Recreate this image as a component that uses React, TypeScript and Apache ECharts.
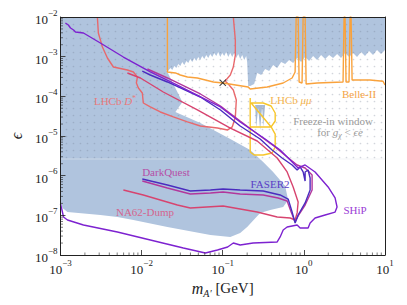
import React, { useEffect, useRef } from 'react';
import * as echarts from 'echarts';

type P = [number, number];

const SERIF = '"Liberation Serif", "DejaVu Serif", serif';

// axis decades
const xDecades = [1e-3, 1e-2, 1e-1, 1, 10];
const yDecades = [1e-8, 1e-7, 1e-6, 1e-5, 1e-4, 1e-3, 1e-2];

// excluded (shaded) region: [m_A' GeV, epsilon]
const excludedRegion: P[] = [
  [1e-3, 1e-2], [10, 1e-2], [10, 1.47e-3],
  [8.93, 1.17e-3], [7.97, 1.47e-3], [7.12, 1.1e-3], [6.36, 1.39e-3], [5.67, 1.04e-3], [5.07, 1.31e-3],
  [4.52, 9.8e-4], [4.04, 1.24e-3], [3.61, 9.8e-4], [3.22, 1.24e-3], [2.87, 9.26e-4], [2.57, 1.17e-3],
  [2.29, 9.26e-4], [2.05, 1.1e-3], [1.83, 8.74e-4], [1.63, 1.1e-3], [1.456, 8.24e-4], [1.3, 1.04e-3],
  [1.16, 7.78e-4], [1.036, 9.8e-4], [0.925, 7.34e-4], [0.826, 9.26e-4], [0.738, 6.92e-4],
  [0.658, 8.24e-4], [0.588, 6.53e-4], [0.525, 7.34e-4], [0.469, 5.18e-4], [0.418, 6.17e-4],
  [0.3735, 4.35e-4], [0.333, 4.89e-4], [0.2978, 3.45e-4], [0.266, 3.88e-4], [0.244, 2.05e-4],
  [0.218, 1.82e-4], [0.206, 1.82e-4], [0.2, 7.34e-4],
  [0.1946, 1.04e-3], [0.1839, 8.24e-4], [0.1738, 1.1e-3], [0.1642, 8.74e-4], [0.1552, 1.17e-3],
  [0.1466, 9.26e-4], [0.1385, 1.24e-3], [0.1309, 9.8e-4], [0.1237, 1.24e-3], [0.1169, 9.8e-4],
  [0.1104, 1.31e-3], [0.1043, 1.04e-3], [0.0986, 1.24e-3], [0.0932, 9.8e-4], [0.088, 1.31e-3],
  [0.0832, 1.04e-3], [0.0786, 1.24e-3], [0.0743, 9.8e-4], [0.0702, 1.17e-3], [0.0663, 9.26e-4],
  [0.0626, 1.1e-3], [0.0592, 8.74e-4], [0.0559, 1.04e-3], [0.0528, 8.24e-4], [0.0499, 9.8e-4],
  [0.0472, 7.78e-4], [0.0446, 9.26e-4], [0.0421, 7.34e-4], [0.0398, 8.74e-4], [0.0376, 6.92e-4],
  [0.0356, 7.78e-4], [0.0336, 6.17e-4], [0.0317, 7.34e-4], [0.03, 5.82e-4], [0.0283, 6.53e-4],
  [0.0268, 5.18e-4], [0.0253, 5.82e-4], [0.0239, 4.61e-4], [0.0226, 5.18e-4], [0.0213, 4.35e-4],
  [0.0202, 4.61e-4],
  [0.0318, 7.2e-5], [0.0261, 4.03e-5], [0.053, 2.13e-5], [0.124, 8.41e-6], [0.218, 4.44e-6],
  [0.315, 2.21e-6], [0.418, 1.24e-6], [0.588, 5.49e-7], [0.64, 2.44e-7], [0.556, 1.62e-7],
  [0.385, 1.36e-7], [0.289, 1.15e-7], [0.2, 5.08e-8], [0.164, 3.59e-8], [0.124, 2.85e-8],
  [0.0705, 3.19e-8], [0.0208, 5.08e-8], [7.92e-3, 7.63e-8], [5.03e-3, 9.08e-8], [3.1e-3, 1.02e-7],
  [1.22e-3, 1.21e-7], [1.06e-3, 1.53e-7], [1e-3, 2.1e-7],
];

const excludedSpikes: P[] = [
  [0.251, 6.05e-5], [0.258, 1.59e-5], [0.2735, 5.08e-5], [0.289, 1.42e-5],
  [0.306, 5.71e-5], [0.315, 1.69e-5], [0.333, 6.05e-5],
];

// freeze-in window (dotted band)
const freezeInBand: P[] = [[1e-3, 2.63e-6], [10, 2.63e-6], [10, 1e-2], [1e-3, 1e-2]];
const freezeInEdge: P[] = [[1e-3, 2.5e-6], [10, 2.5e-6], [10, 2.8e-6], [1e-3, 2.8e-6]];

const lhcbDstar: P[] = [
  [2.85e-3, 1e-2], [2.93e-3, 3.95e-3], [3.29e-3, 1.75e-3], [3.79e-3, 9.26e-4], [4.49e-3, 5.49e-4],
  [6.68e-3, 4.61e-4], [7.92e-3, 4.11e-4], [8.87e-3, 3.07e-4], [8.62e-3, 2.17e-4], [9.13e-3, 1.62e-4],
  [1.02e-2, 1.21e-4], [1.05e-2, 6.79e-5], [1.28e-2, 5.39e-5], [1.7e-2, 4.03e-5], [2.46e-2, 3.02e-5],
  [3.67e-2, 2.26e-5], [5.3e-2, 1.79e-5], [8.61e-2, 1.59e-5], [0.115, 1.42e-5], [0.131, 1.69e-5],
  [0.143, 3.02e-5], [0.147, 8.08e-5], [0.135, 1.445e-4], [0.117, 2.05e-4], [0.107, 2.44e-4],
  [0.124, 3.45e-4], [0.135, 5.49e-4], [0.143, 1.1e-3], [0.143, 2.63e-3], [0.135, 1e-2],
];

const belle2: P[] = [
  [2.08e-2, 1e-2], [2.08e-2, 4.11e-4], [2.61e-2, 3.88e-4], [3.0e-2, 3.45e-4], [3.67e-2, 3.07e-4],
  [4.87e-2, 2.9e-4], [7.67e-2, 2.3e-4], [0.101, 2.17e-4], [0.206, 1.72e-4], [0.218, 1.53e-4],
  [0.353, 1.72e-4], [0.556, 2.17e-4], [0.716, 2.9e-4], [0.78, 4.11e-4], [0.804, 1e-2], [0.85, 1e-2],
  [0.874, 2.3e-4], [0.95, 2.17e-4], [0.979, 1e-2], [1.036, 1e-2], [1.066, 2.05e-4], [1.455, 2.17e-4],
  [3.04, 2.3e-4], [3.13, 1e-2], [3.22, 1e-2], [3.31, 2.3e-4], [3.6, 2.3e-4], [3.71, 1e-2],
  [3.82, 1e-2], [3.93, 2.58e-4], [6.53, 2.58e-4], [9.45, 2.4e-4], [10, 1.93e-4],
];

const lhcbMuMuOuter: P[] = [
  [0.218, 9.08e-5], [0.218, 3.95e-6], [0.244, 3.32e-6], [0.315, 3.32e-6], [0.406, 3.73e-6],
  [0.443, 5.28e-6], [0.443, 1.12e-5], [0.395, 1.69e-5], [0.443, 2.39e-5], [0.443, 3.8e-5],
  [0.395, 5.71e-5], [0.315, 6.79e-5], [0.251, 6.79e-5], [0.224, 6.79e-5], [0.395, 1.69e-5],
  [0.218, 1.69e-5],
];

const ship: P[] = [
  [1.15e-3, 7.06e-3], [1.25e-3, 6.28e-3], [1.33e-3, 5.28e-3], [1.45e-3, 4.7e-3], [1.53e-3, 4.19e-3],
  [1.92e-3, 3.95e-3], [3.1e-3, 2.21e-3], [5.96e-3, 9.8e-4], [1.28e-2, 4.11e-4], [2.76e-2, 1.93e-4],
  [7.05e-2, 7.2e-5], [9.38e-2, 5.39e-5], [0.164, 2.26e-5], [0.333, 8.41e-6], [0.51, 4.44e-6],
  [0.678, 2.48e-6], [0.85, 1.56e-6], [1.036, 1.86e-6], [1.374, 1.24e-6], [1.99, 5.18e-7],
  [2.425, 2.74e-7], [2.565, 1.62e-7], [2.425, 1.21e-7], [1.827, 1.02e-7], [1.374, 8.57e-8],
  [1.194, 6.42e-8], [1.128, 4.8e-8], [0.899, 4.8e-8], [0.826, 5.71e-8], [0.622, 5.08e-8],
  [0.556, 4.27e-8], [0.51, 2.85e-8], [0.469, 2.13e-8], [0.237, 2.01e-8], [0.164, 1.79e-8],
  [0.135, 2.01e-8], [0.115, 1.59e-8], [0.0861, 1.34e-8], [0.061, 1.12e-8], [0.0327, 1.5e-8],
  [1.28e-2, 2.39e-8], [5.03e-3, 3.8e-8], [1.92e-3, 5.71e-8], [1.22e-3, 7.63e-8], [1.09e-3, 9.08e-8],
  [1.03e-3, 1.53e-7], [1e-3, 1.93e-7],
];

const faser2: P[] = [
  [1.02e-2, 4.35e-4], [1.28e-2, 3.45e-4], [2.08e-2, 2.3e-4], [5.3e-2, 9.62e-5], [9.38e-2, 4.53e-5],
  [0.164, 1.79e-5], [0.289, 8.41e-6], [0.406, 4.44e-6], [0.539, 2.79e-6], [0.716, 1.86e-6],
  [0.826, 1.39e-6], [0.899, 1.66e-6], [0.979, 1.24e-6], [1.036, 7.34e-7], [1.036, 1.24e-6],
  [1.128, 1.39e-6], [1.194, 8.74e-7], [1.194, 4.36e-7], [1.036, 2.05e-7], [0.85, 1.02e-7],
  [0.78, 6.42e-8], [0.716, 1.21e-7], [0.64, 2.58e-7], [0.51, 3.26e-7], [0.315, 4.11e-7],
  [0.164, 4.36e-7], [0.101, 4.62e-7], [0.0705, 4.36e-7], [0.0398, 4.11e-7], [0.0208, 5.82e-7],
  [1.02e-2, 8.24e-7],
];

const darkQuest: P[] = [
  [1.18e-2, 4.89e-4], [2.08e-2, 2.9e-4], [5.3e-2, 1.146e-4], [9.38e-2, 5.71e-5], [0.164, 2.39e-5],
  [0.289, 1.0e-5], [0.443, 5.28e-6], [0.622, 2.96e-6], [0.826, 1.86e-6], [1.036, 1.56e-6],
  [1.263, 1.04e-6], [1.263, 4.36e-7], [1.036, 1.82e-7], [0.85, 9.63e-8], [0.78, 6.8e-8],
  [0.697, 1.21e-7], [0.622, 2.3e-7], [0.482, 2.74e-7], [0.315, 3.26e-7], [0.164, 3.45e-7],
  [0.101, 3.88e-7], [0.0705, 3.66e-7], [0.0398, 3.45e-7], [0.0208, 4.89e-7], [1.02e-2, 7.34e-7],
];

const na62: P[] = [
  [6.68e-3, 3.88e-4], [9.67e-3, 2.9e-4], [1.85e-2, 1.286e-4], [4.87e-2, 4.53e-5], [0.124, 1.59e-5],
  [0.266, 7.48e-6], [0.469, 2.79e-6], [0.622, 1.24e-6], [0.738, 5.18e-7], [0.85, 2.17e-7],
  [0.826, 1.15e-7], [0.78, 7.63e-8], [0.678, 8.57e-8], [0.469, 9.08e-8], [0.266, 1.21e-7],
  [0.101, 1.72e-7], [0.0398, 1.53e-7], [0.0276, 1.82e-7], [0.017, 2.44e-7], [1.05e-2, 3.26e-7],
  [5.96e-3, 4.36e-7],
];

const benchmark: P[] = [[0.1, 2.2e-4]];

const COLORS = {
  region: '#b0c4de',
  spikes: '#a7bad4',
  dstar: '#e8686c',
  belle: '#f9a23c',
  mumu: '#f7c62a',
  ship: '#7d22d0',
  faser: '#4a2cbf',
  dq: '#b2379c',
  na62: '#d7446f',
};

function polySeries(points: P[], fill: any, z: number) {
  return {
    type: 'custom',
    coordinateSystem: 'cartesian2d',
    z,
    silent: true,
    data: points,
    renderItem: (params: any, api: any) => {
      if (params.dataIndex !== 0) return null;
      return {
        type: 'polygon',
        shape: { points: points.map((p) => api.coord(p)) },
        style: { fill },
      };
    },
  };
}

function lineSeries(name: string, data: P[], color: string, width = 1.4, z = 4) {
  return {
    name,
    type: 'line',
    data,
    z,
    silent: true,
    showSymbol: false,
    symbol: 'none',
    lineStyle: { color, width },
  };
}

function expLabel(v: number) {
  const e = Math.round(Math.log10(v));
  return `{b|10}{e|${e < 0 ? '\u2212' + -e : e}}`;
}

const labelRich = {
  b: { fontSize: 13, lineHeight: 18, verticalAlign: 'bottom', fontFamily: SERIF, color: '#222' },
  e: { fontSize: 9, lineHeight: 9, verticalAlign: 'top', fontFamily: SERIF, color: '#222' },
};

function textEl(x: number, y: number, text: string, fill: string, size = 11) {
  return {
    type: 'text',
    x,
    y,
    z: 100,
    silent: true,
    style: {
      text,
      fill,
      fontSize: size,
      fontFamily: SERIF,
      align: 'center',
      verticalAlign: 'middle',
      lineHeight: 14,
      rich: {
        i: { fontStyle: 'italic', fontSize: size, fontFamily: SERIF, fill, lineHeight: 14 },
        s: { fontSize: size - 3, fontFamily: SERIF, fill, verticalAlign: 'top', lineHeight: 8 },
        sub: { fontSize: size - 3, fontFamily: SERIF, fill, fontStyle: 'italic', verticalAlign: 'bottom', lineHeight: 8 },
      },
    },
  };
}

export default function App() {
  const ref = useRef<HTMLDivElement>(null);
  useEffect(() => {
    document.body.style.margin = '0';
    if (!ref.current) return;
    const chart = echarts.init(ref.current, null, { renderer: 'svg' });

    const c = document.createElement('canvas');
    c.width = 7;
    c.height = 7;
    const ctx = c.getContext('2d');
    if (ctx) {
      ctx.fillStyle = 'rgba(115,125,145,0.32)';
      ctx.beginPath();
      ctx.arc(3.5, 3.5, 0.85, 0, Math.PI * 2);
      ctx.fill();
    }
    const dots = { image: c, repeat: 'repeat' };

    const xMinor: number[] = [];
    xDecades.slice(0, -1).forEach((d) => { for (let k = 2; k <= 9; k++) xMinor.push(k * d); });
    const yMinor: number[] = [];
    yDecades.slice(0, -1).forEach((d) => { for (let k = 2; k <= 9; k++) yMinor.push(k * d); });

    const axisLine = { show: true, onZero: false, lineStyle: { color: '#222', width: 1 } };
    const axisLabel = { margin: 3, formatter: expLabel, rich: labelRich, color: '#222', fontFamily: SERIF, fontSize: 13 };

    const option: any = {
      animation: false,
      grid: { left: 60, right: 22, top: 17, bottom: 50 },
      xAxis: [
        {
          type: 'log', logBase: 10, min: xDecades[0], max: xDecades[xDecades.length - 1],
          position: 'bottom', z: 10, axisLine,
          axisTick: { show: true, inside: true, length: 5, lineStyle: { color: '#222', width: 0.8 } },
          minorTick: { show: false }, splitLine: { show: false },
          axisLabel,
          name: '{i|m}{sub|A\u2032}{n| [GeV]}',
          nameLocation: 'middle', nameGap: 19,
          nameTextStyle: {
            fontFamily: SERIF, fontSize: 15, color: '#222',
            rich: {
              i: { fontFamily: SERIF, fontSize: 16, fontStyle: 'italic', lineHeight: 18, verticalAlign: 'top', color: '#222' },
              sub: { fontFamily: SERIF, fontSize: 10, fontStyle: 'italic', lineHeight: 12, verticalAlign: 'bottom', color: '#222' },
              n: { fontFamily: SERIF, fontSize: 15, lineHeight: 18, verticalAlign: 'top', color: '#222' },
            },
          },
        },
        {
          type: 'log', logBase: 10, min: xDecades[0], max: xDecades[xDecades.length - 1],
          position: 'top', z: 10, axisLine, axisTick: { show: false }, axisLabel: { show: false }, splitLine: { show: false },
        },
      ],
      yAxis: [
        {
          type: 'log', logBase: 10, min: yDecades[0], max: yDecades[yDecades.length - 1],
          position: 'left', z: 10, axisLine,
          axisTick: { show: true, inside: true, length: 5, lineStyle: { color: '#222', width: 0.8 } },
          minorTick: { show: false }, splitLine: { show: false },
          axisLabel,
          name: '\u03f5', nameLocation: 'middle', nameGap: 33,
          nameTextStyle: { fontFamily: SERIF, fontSize: 16, fontStyle: 'italic', color: '#222' },
        },
        {
          type: 'log', logBase: 10, min: yDecades[0], max: yDecades[yDecades.length - 1],
          position: 'right', z: 10, axisLine, axisTick: { show: false }, axisLabel: { show: false }, splitLine: { show: false },
        },
      ],
      series: [
        polySeries(excludedRegion, COLORS.region, 1),
        polySeries(excludedSpikes, COLORS.spikes, 1),
        polySeries(freezeInBand, dots, 2),
        polySeries(freezeInEdge, 'rgba(232,234,240,0.25)', 2),
        lineSeries('LHCb D*', lhcbDstar, COLORS.dstar),
        lineSeries('Belle-II', belle2, COLORS.belle),
        lineSeries('LHCb mumu', lhcbMuMuOuter, COLORS.mumu),
        lineSeries('NA62-Dump', na62, COLORS.na62),
        lineSeries('DarkQuest', darkQuest, COLORS.dq),
        lineSeries('FASER2', faser2, COLORS.faser),
        lineSeries('SHiP', ship, COLORS.ship),
        {
          type: 'scatter', data: benchmark, z: 6, silent: true,
          symbol: 'path://M0,1 L1,0 L5,4 L9,0 L10,1 L6,5 L10,9 L9,10 L5,6 L1,10 L0,9 L4,5 Z',
          symbolSize: 7, itemStyle: { color: '#111' },
        },
        {
          type: 'custom', coordinateSystem: 'cartesian2d', z: 11, silent: true,
          data: [[xDecades[0], yDecades[0]]],
          renderItem: (params: any, api: any) => {
            if (params.dataIndex !== 0) return null;
            const children: any[] = [];
            const st = { stroke: '#222', lineWidth: 0.6 };
            xMinor.forEach((v) => {
              const p = api.coord([v, yDecades[0]]);
              children.push({ type: 'line', shape: { x1: p[0], y1: p[1], x2: p[0], y2: p[1] - 2.5 }, style: st });
            });
            yMinor.forEach((v) => {
              const p = api.coord([xDecades[0], v]);
              children.push({ type: 'line', shape: { x1: p[0], y1: p[1], x2: p[0] + 2.5, y2: p[1] }, style: st });
            });
            return { type: 'group', children };
          },
        },
      ],
      graphic: [
        textEl(115, 101, 'LHCb {i|D}{s|*}', '#e8797b'),
        textEl(291, 100, 'LHCb {i|\u03bc\u03bc}', '#f3b34e'),
        textEl(359, 94, 'Belle-II', '#f5a445'),
        textEl(333, 121, 'Freeze-in window', '#9a9a9a'),
        textEl(340, 132, 'for {i|g}{sub|\u03c7} < {i|\u03f5e}', '#9a9a9a'),
        textEl(166, 172, 'DarkQuest', '#b64fa6'),
        textEl(145, 212, 'NA62-Dump', '#d4668e'),
        textEl(270, 184, 'FASER2', '#5a3dc6'),
        textEl(355, 210, 'SHiP', '#9b40d6'),
      ],
    };
    chart.setOption(option);
    return () => chart.dispose();
  }, []);
  return <div ref={ref} style={{ width: 407, height: 305 }} />;
}
